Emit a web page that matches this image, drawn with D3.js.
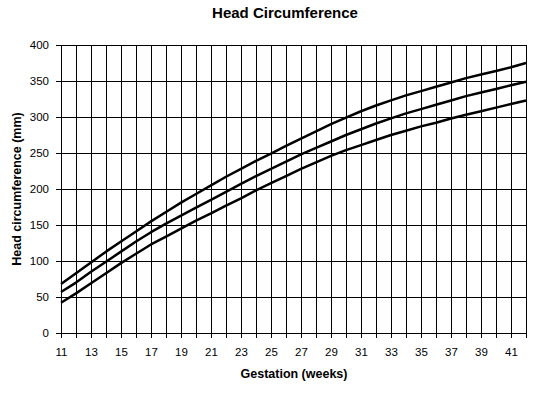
<!DOCTYPE html>
<html>
<head>
<meta charset="utf-8">
<script src="https://cdn.jsdelivr.net/npm/d3@7"></script>
<style>
  body { margin: 0; background: #fff; }
  text { font-family: Arial, "Liberation Sans", sans-serif; }
</style>
</head>
<body>
<script>
var width = 557;
var height = 400;

// gestation weeks
var weeks = d3.range(11, 43);
// three centile curves, mm
var upper = [68, 83, 98, 113, 127, 141, 155, 168, 181, 193, 205, 217, 228, 239, 249, 260,
             270, 280, 290, 299, 308, 316, 323, 330, 336, 342, 348, 354, 359, 364, 369, 375];
var middle = [57, 70, 85, 99, 113, 127, 140, 152, 163, 174, 185, 196, 207, 218, 228, 238,
              248, 257, 266, 275, 283, 291, 298, 305, 311, 317, 323, 329, 334, 339, 344, 349];
var lower = [42, 55, 69, 83, 97, 110, 123, 134, 145, 156, 166, 177, 187, 198, 208, 218,
             228, 237, 246, 254, 261, 268, 275, 281, 287, 292, 298, 303, 308, 313, 318, 323];
var yTicks = [0, 50, 100, 150, 200, 250, 300, 350, 400];

// plot area edges
var plotLeft = 61, plotRight = 526, plotTop = 45, plotBottom = 333;

var svg = d3.select("body")
    .append("svg")
    .attr("width", width)
    .attr("height", height);

var x = d3.scaleLinear().domain([11, 42]).range([plotLeft, plotRight]);
var y = d3.scaleLinear().domain([0, 400]).range([plotBottom, plotTop]);

// y axis + horizontal grid
var gy = svg.append("g")
    .attr("transform", "translate(" + plotLeft + ",0)")
    .call(d3.axisLeft(y).tickValues(yTicks).tickSizeInner(-(plotRight - plotLeft)).tickSizeOuter(0));
gy.selectAll("line").attr("x1", -5).attr("stroke", "#000");
gy.selectAll("text").attr("x", -12).attr("font-size", 11.5).attr("fill", "#000");
gy.select(".domain").attr("stroke", "#000");

// x axis + vertical grid
var gx = svg.append("g")
    .attr("transform", "translate(0," + plotBottom + ")")
    .call(d3.axisBottom(x).tickValues(weeks).tickSizeInner(-(plotBottom - plotTop)).tickSizeOuter(0)
        .tickFormat(function(d) { return d % 2 === 1 ? d : ""; }));
gx.selectAll("line").attr("y1", 5).attr("stroke", "#000");
gx.selectAll("text").attr("y", 15).attr("font-size", 11.5).attr("fill", "#000");
gx.select(".domain").attr("stroke", "#000");

// curves
var line = d3.line()
    .x(function(d, i) { return x(weeks[i]); })
    .y(function(d) { return y(d); });

svg.append("g")
    .selectAll("path")
    .data([upper, middle, lower])
    .enter()
    .append("path")
    .attr("d", line)
    .attr("fill", "none")
    .attr("stroke", "#000")
    .attr("stroke-width", 2.5)
    .attr("stroke-linejoin", "round");

// titles
svg.append("text")
    .attr("x", 285)
    .attr("y", 18)
    .attr("text-anchor", "middle")
    .attr("font-size", 15)
    .attr("font-weight", "bold")
    .text("Head Circumference");

svg.append("text")
    .attr("x", 294)
    .attr("y", 378)
    .attr("text-anchor", "middle")
    .attr("font-size", 12.5)
    .attr("font-weight", "bold")
    .text("Gestation (weeks)");

svg.append("text")
    .attr("transform", "translate(21,189) rotate(-90)")
    .attr("text-anchor", "middle")
    .attr("font-size", 12.5)
    .attr("font-weight", "bold")
    .text("Head circumference (mm)");
</script>
</body>
</html>
